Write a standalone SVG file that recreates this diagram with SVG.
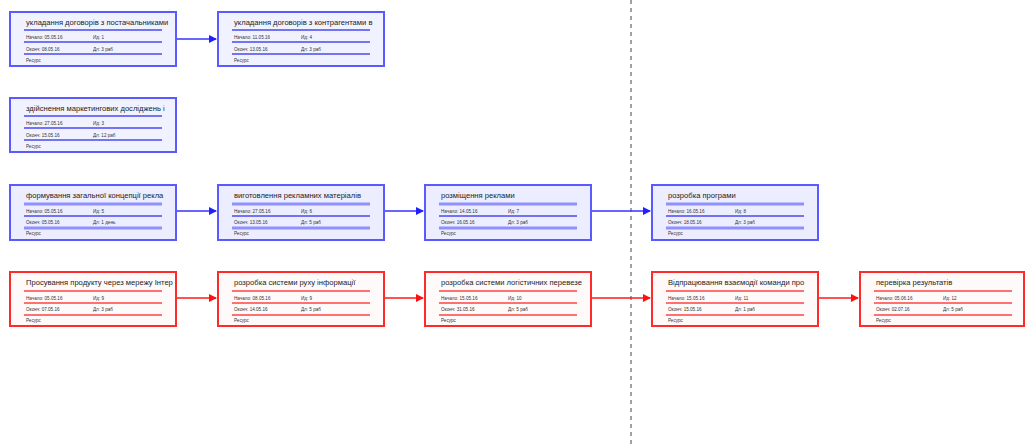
<svg xmlns="http://www.w3.org/2000/svg" width="1027" height="445" viewBox="0 0 1027 445">
<style>
.bb{fill:#f1f2ff;stroke:#5a5aff;stroke-width:2}
.bb2{fill:#eceeff;stroke:#5a5aff;stroke-width:2}
.rb{fill:#fffafa;stroke:#ff2a2a;stroke-width:2}
.bl{stroke:#4a4aee;stroke-width:1.4}
.bl2{stroke:#8f8fff;stroke-width:3}
.rl{stroke:#ff7070;stroke-width:2}
.t{font-family:"Liberation Sans",Arial,sans-serif;font-size:7.6px;fill:#222}
.s{font-family:"Liberation Sans",Arial,sans-serif;font-size:4.6px;fill:#333}
.ab{stroke:#3434ff;stroke-width:1.4;fill:none}
.ar{stroke:#ff1a1a;stroke-width:1.4;fill:none}
</style>
<defs>
<marker id="mb" markerWidth="8" markerHeight="8" refX="7" refY="4" orient="auto" markerUnits="userSpaceOnUse"><path d="M0,0 L8,4 L0,8 z" fill="#2020ff"/></marker>
<marker id="mr" markerWidth="8" markerHeight="8" refX="7" refY="4" orient="auto" markerUnits="userSpaceOnUse"><path d="M0,0 L8,4 L0,8 z" fill="#ff1010"/></marker>
</defs>
<rect width="1027" height="445" fill="#fff"/>
<line x1="631" y1="0" x2="631" y2="445" stroke="#444" stroke-width="1" stroke-dasharray="4,4"/>

<g id="connectors">
<line class="ab" x1="177" y1="39" x2="216" y2="39" marker-end="url(#mb)"/>
<line class="ab" x1="177" y1="211" x2="216" y2="211" marker-end="url(#mb)"/>
<line class="ab" x1="385" y1="211" x2="423" y2="211" marker-end="url(#mb)"/>
<line class="ab" x1="592" y1="211" x2="650" y2="211" marker-end="url(#mb)"/>
<line class="ar" x1="177" y1="298" x2="216" y2="298" marker-end="url(#mr)"/>
<line class="ar" x1="385" y1="298" x2="423" y2="298" marker-end="url(#mr)"/>
<line class="ar" x1="592" y1="298" x2="650" y2="298" marker-end="url(#mr)"/>
<line class="ar" x1="819" y1="298" x2="858" y2="298" marker-end="url(#mr)"/>
</g>

<g id="n1" transform="translate(10,12)">
<rect class="bb" width="166" height="54"/>
<text class="t" x="16" y="13">укладання договорів з постачальниками</text>
<line class="bl" x1="14" y1="18" x2="152" y2="18"/>
<text class="s" x="16" y="27">Начало:  05.05.16</text><text class="s" x="83" y="27">Ид:     1</text>
<line class="bl" x1="14" y1="30" x2="152" y2="30"/>
<text class="s" x="16" y="38.5">Оконч:  08.05.16</text><text class="s" x="83" y="38.5">Дл:  3 раб</text>
<line class="bl" x1="14" y1="42" x2="152" y2="42"/>
<text class="s" x="16" y="49.5">Ресурс</text>
</g>

<g id="n2" transform="translate(218,12)">
<rect class="bb" width="166" height="54"/>
<text class="t" x="16" y="13">укладання договорів з контрагентами в</text>
<line class="bl" x1="14" y1="18" x2="152" y2="18"/>
<text class="s" x="16" y="27">Начало:  11.05.16</text><text class="s" x="83" y="27">Ид:     4</text>
<line class="bl" x1="14" y1="30" x2="152" y2="30"/>
<text class="s" x="16" y="38.5">Оконч:  13.05.16</text><text class="s" x="83" y="38.5">Дл:  3 раб</text>
<line class="bl" x1="14" y1="42" x2="152" y2="42"/>
<text class="s" x="16" y="49.5">Ресурс</text>
</g>

<g id="n3" transform="translate(10,98)">
<rect class="bb" width="166" height="54"/>
<text class="t" x="16" y="13">здійснення маркетингових досліджень і</text>
<line class="bl" x1="14" y1="18" x2="152" y2="18"/>
<text class="s" x="16" y="27">Начало:  27.05.16</text><text class="s" x="83" y="27">Ид:     3</text>
<line class="bl" x1="14" y1="30" x2="152" y2="30"/>
<text class="s" x="16" y="38.5">Оконч:  15.05.16</text><text class="s" x="83" y="38.5">Дл:  12 раб</text>
<line class="bl" x1="14" y1="42" x2="152" y2="42"/>
<text class="s" x="16" y="49.5">Ресурс</text>
</g>

<g id="n4" transform="translate(10,185)">
<rect class="bb2" width="166" height="55"/>
<text class="t" x="16" y="13">формування загальної концепції рекла</text>
<line class="bl2" x1="14" y1="19" x2="152" y2="19"/>
<text class="s" x="16" y="27.5">Начало:  05.05.16</text><text class="s" x="83" y="27.5">Ид:     5</text>
<line class="bl" x1="14" y1="31" x2="152" y2="31"/>
<text class="s" x="16" y="39">Оконч:  05.05.16</text><text class="s" x="83" y="39">Дл:  1 день</text>
<line class="bl2" x1="14" y1="43" x2="152" y2="43"/>
<text class="s" x="16" y="50">Ресурс</text>
</g>

<g id="n5" transform="translate(218,185)">
<rect class="bb2" width="166" height="55"/>
<text class="t" x="16" y="13">виготовлення рекламних матеріалів</text>
<line class="bl2" x1="14" y1="19" x2="152" y2="19"/>
<text class="s" x="16" y="27.5">Начало:  27.05.16</text><text class="s" x="83" y="27.5">Ид:     6</text>
<line class="bl" x1="14" y1="31" x2="152" y2="31"/>
<text class="s" x="16" y="39">Оконч:  13.05.16</text><text class="s" x="83" y="39">Дл:  5 раб</text>
<line class="bl2" x1="14" y1="43" x2="152" y2="43"/>
<text class="s" x="16" y="50">Ресурс</text>
</g>

<g id="n6" transform="translate(425,185)">
<rect class="bb2" width="166" height="55"/>
<text class="t" x="16" y="13">розміщення реклами</text>
<line class="bl2" x1="14" y1="19" x2="152" y2="19"/>
<text class="s" x="16" y="27.5">Начало:  14.05.16</text><text class="s" x="83" y="27.5">Ид:     7</text>
<line class="bl" x1="14" y1="31" x2="152" y2="31"/>
<text class="s" x="16" y="39">Оконч:  16.05.16</text><text class="s" x="83" y="39">Дл:  3 раб</text>
<line class="bl2" x1="14" y1="43" x2="152" y2="43"/>
<text class="s" x="16" y="50">Ресурс</text>
</g>

<g id="n7" transform="translate(652,185)">
<rect class="bb2" width="166" height="55"/>
<text class="t" x="16" y="13">розробка програми</text>
<line class="bl2" x1="14" y1="19" x2="152" y2="19"/>
<text class="s" x="16" y="27.5">Начало:  16.05.16</text><text class="s" x="83" y="27.5">Ид:     8</text>
<line class="bl" x1="14" y1="31" x2="152" y2="31"/>
<text class="s" x="16" y="39">Оконч:  18.05.16</text><text class="s" x="83" y="39">Дл:  3 раб</text>
<line class="bl2" x1="14" y1="43" x2="152" y2="43"/>
<text class="s" x="16" y="50">Ресурс</text>
</g>

<g id="n8" transform="translate(10,272)">
<rect class="rb" width="166" height="54"/>
<text class="t" x="16" y="13">Просування продукту через мережу Інтер</text>
<line class="rl" x1="14" y1="19" x2="152" y2="19"/>
<text class="s" x="16" y="27.5">Начало:  05.05.16</text><text class="s" x="83" y="27.5">Ид:     9</text>
<line class="rl" x1="14" y1="31" x2="152" y2="31"/>
<text class="s" x="16" y="39">Оконч:  07.05.16</text><text class="s" x="83" y="39">Дл:  3 раб</text>
<line class="rl" x1="14" y1="43" x2="152" y2="43"/>
<text class="s" x="16" y="50">Ресурс</text>
</g>

<g id="n9" transform="translate(218,272)">
<rect class="rb" width="166" height="54"/>
<text class="t" x="16" y="13">розробка системи руху інформації</text>
<line class="rl" x1="14" y1="19" x2="152" y2="19"/>
<text class="s" x="16" y="27.5">Начало:  08.05.16</text><text class="s" x="83" y="27.5">Ид:     9</text>
<line class="rl" x1="14" y1="31" x2="152" y2="31"/>
<text class="s" x="16" y="39">Оконч:  14.05.16</text><text class="s" x="83" y="39">Дл:  5 раб</text>
<line class="rl" x1="14" y1="43" x2="152" y2="43"/>
<text class="s" x="16" y="50">Ресурс</text>
</g>

<g id="n10" transform="translate(425,272)">
<rect class="rb" width="166" height="54"/>
<text class="t" x="16" y="13">розробка системи логістичних перевезе</text>
<line class="rl" x1="14" y1="19" x2="152" y2="19"/>
<text class="s" x="16" y="27.5">Начало:  15.05.16</text><text class="s" x="83" y="27.5">Ид:     10</text>
<line class="rl" x1="14" y1="31" x2="152" y2="31"/>
<text class="s" x="16" y="39">Оконч:  31.05.16</text><text class="s" x="83" y="39">Дл:  5 раб</text>
<line class="rl" x1="14" y1="43" x2="152" y2="43"/>
<text class="s" x="16" y="50">Ресурс</text>
</g>

<g id="n11" transform="translate(652,272)">
<rect class="rb" width="166" height="54"/>
<text class="t" x="16" y="13">Відпрацювання взаємодії команди про</text>
<line class="rl" x1="14" y1="19" x2="152" y2="19"/>
<text class="s" x="16" y="27.5">Начало:  15.05.16</text><text class="s" x="83" y="27.5">Ид:     11</text>
<line class="rl" x1="14" y1="31" x2="152" y2="31"/>
<text class="s" x="16" y="39">Оконч:  15.05.16</text><text class="s" x="83" y="39">Дл:  1 раб</text>
<line class="rl" x1="14" y1="43" x2="152" y2="43"/>
<text class="s" x="16" y="50">Ресурс</text>
</g>

<g id="n12" transform="translate(860,272)">
<rect class="rb" width="164" height="54"/>
<text class="t" x="16" y="13">перевірка результатів</text>
<line class="rl" x1="14" y1="19" x2="152" y2="19"/>
<text class="s" x="16" y="27.5">Начало:  05.06.16</text><text class="s" x="83" y="27.5">Ид:     12</text>
<line class="rl" x1="14" y1="31" x2="152" y2="31"/>
<text class="s" x="16" y="39">Оконч:  02.07.16</text><text class="s" x="83" y="39">Дл:  5 раб</text>
<line class="rl" x1="14" y1="43" x2="152" y2="43"/>
<text class="s" x="16" y="50">Ресурс</text>
</g>
</svg>
